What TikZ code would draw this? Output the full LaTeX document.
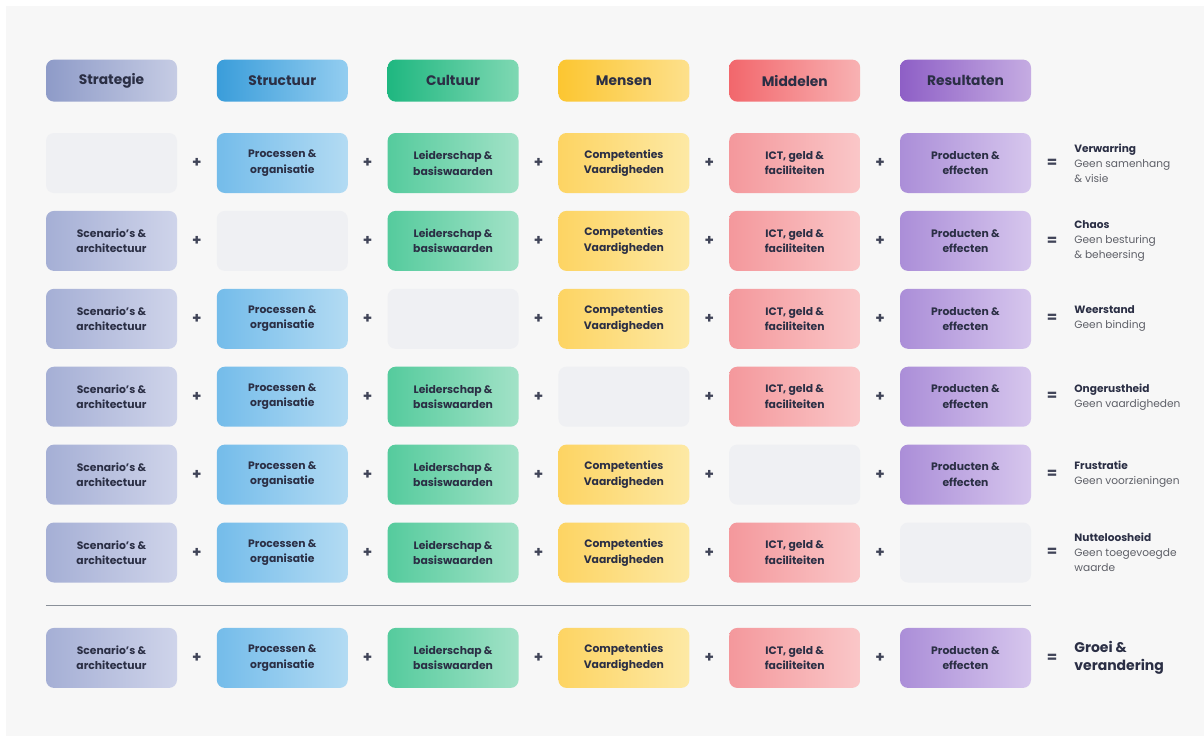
\documentclass[tikz,border=0pt]{standalone}
\usepackage{fontspec}
\setmainfont{Poppins}
\usetikzlibrary{positioning,calc}

\definecolor{ink}{HTML}{2B2F45}
\definecolor{greytext}{HTML}{5E6068}
\definecolor{panel}{HTML}{F7F7F7}
\definecolor{blank}{HTML}{EFF0F3}
\definecolor{rule}{HTML}{8A9099}
% header colours (left / right of the shading)
\definecolor{stratA}{HTML}{8E9BC8}\definecolor{stratB}{HTML}{C6CCE4}
\definecolor{strucA}{HTML}{3A9DDA}\definecolor{strucB}{HTML}{93CDF0}
\definecolor{cultA}{HTML}{1FB780}\definecolor{cultB}{HTML}{7FD8B3}
\definecolor{mensA}{HTML}{FCC631}\definecolor{mensB}{HTML}{FDE08C}
\definecolor{middA}{HTML}{F2676C}\definecolor{middB}{HTML}{F8B2B3}
\definecolor{resA}{HTML}{8E5FC6}\definecolor{resB}{HTML}{C5ACE2}
% lighter colours for the rows
\definecolor{stratC}{HTML}{A5AFD5}\definecolor{stratD}{HTML}{CFD4EA}
\definecolor{strucC}{HTML}{74BCEA}\definecolor{strucD}{HTML}{B3DBF3}
\definecolor{cultC}{HTML}{55CB9D}\definecolor{cultD}{HTML}{A2E2C7}
\definecolor{mensC}{HTML}{FDD463}\definecolor{mensD}{HTML}{FDE9A5}
\definecolor{middC}{HTML}{F4989C}\definecolor{middD}{HTML}{FAC7C8}
\definecolor{resC}{HTML}{AB8ED8}\definecolor{resD}{HTML}{D6C6ED}

\tikzset{
  % all boxes share size and corners
  box/.style={rectangle, rounded corners=8pt, inner sep=0pt,
  minimum width=131pt, minimum height=60pt, align=center, text=ink,
  font=\fontsize{10.8}{15.5}\selectfont\bfseries},
  head/.style={box, minimum height=42pt, font=\fontsize{13.8}{16}\selectfont\bfseries},
  empty/.style={box, fill=blank},
  strath/.style={head, left color=stratA, right color=stratB},
  struch/.style={head, left color=strucA, right color=strucB},
  culth/.style={head, left color=cultA, right color=cultB},
  mensh/.style={head, left color=mensA, right color=mensB},
  middh/.style={head, left color=middA, right color=middB},
  resh/.style={head, left color=resA, right color=resB},
  strat/.style={box, left color=stratC, right color=stratD},
  struc/.style={box, left color=strucC, right color=strucD},
  cult/.style={box, left color=cultC, right color=cultD},
  mens/.style={box, left color=mensC, right color=mensD},
  midd/.style={box, left color=middC, right color=middD},
  res/.style={box, left color=resC, right color=resD},
  plus/.style={text=ink!90, font=\fontsize{15}{15}\selectfont\bfseries},
  eq/.style={text=ink!90, font=\fontsize{15}{15}\selectfont\bfseries},
  outcome/.style={anchor=west, align=left, inner sep=0pt, text=greytext,
  font=\fontsize{10.6}{15}\selectfont},
  sepline/.style={draw=rule, line width=1.3pt}}

\newcommand{\ttl}[1]{{\color{ink}\bfseries #1}}

\begin{document}
\begin{tikzpicture}[x=1pt, y=1pt,
    node distance=17.5pt and 39.4pt, % row gap and column gap
    ]

\useasboundingbox (0,0) rectangle (1204,-736);
\fill [white] (0,0) rectangle (1204,-736);
\fill [panel] (6,-6) rectangle (1204,-736);

% row 1 -- no strategy
\node (s1) [empty] at (111.5,-163) {};
\node (t1) [struc, right=of s1] {Processen \&\\organisatie};
\node (c1) [cult, right=of t1] {Leiderschap \&\\basiswaarden};
\node (m1) [mens, right=of c1] {Competenties\\Vaardigheden};
\node (d1) [midd, right=of m1] {ICT, geld \&\\faciliteiten};
\node (r1) [res, right=of d1] {Producten \&\\effecten};

% header above the first row
\node (hs) [strath, above=31pt of s1] {Strategie};
\node (ht) [struch, above=31pt of t1] {Structuur};
\node (hc) [culth, above=31pt of c1] {Cultuur};
\node (hm) [mensh, above=31pt of m1] {Mensen};
\node (hd) [middh, above=31pt of d1] {Middelen};
\node (hr) [resh, above=31pt of r1] {Resultaten};

% row 2 -- no structure
\node (s2) [strat, below=of s1] {Scenario's \&\\architectuur};
\node (t2) [empty, right=of s2] {};
\node (c2) [cult, right=of t2] {Leiderschap \&\\basiswaarden};
\node (m2) [mens, right=of c2] {Competenties\\Vaardigheden};
\node (d2) [midd, right=of m2] {ICT, geld \&\\faciliteiten};
\node (r2) [res, right=of d2] {Producten \&\\effecten};

% row 3 -- no culture
\node (s3) [strat, below=of s2] {Scenario's \&\\architectuur};
\node (t3) [struc, right=of s3] {Processen \&\\organisatie};
\node (c3) [empty, right=of t3] {};
\node (m3) [mens, right=of c3] {Competenties\\Vaardigheden};
\node (d3) [midd, right=of m3] {ICT, geld \&\\faciliteiten};
\node (r3) [res, right=of d3] {Producten \&\\effecten};

% row 4 -- no people
\node (s4) [strat, below=of s3] {Scenario's \&\\architectuur};
\node (t4) [struc, right=of s4] {Processen \&\\organisatie};
\node (c4) [cult, right=of t4] {Leiderschap \&\\basiswaarden};
\node (m4) [empty, right=of c4] {};
\node (d4) [midd, right=of m4] {ICT, geld \&\\faciliteiten};
\node (r4) [res, right=of d4] {Producten \&\\effecten};

% row 5 -- no means
\node (s5) [strat, below=of s4] {Scenario's \&\\architectuur};
\node (t5) [struc, right=of s5] {Processen \&\\organisatie};
\node (c5) [cult, right=of t5] {Leiderschap \&\\basiswaarden};
\node (m5) [mens, right=of c5] {Competenties\\Vaardigheden};
\node (d5) [empty, right=of m5] {};
\node (r5) [res, right=of d5] {Producten \&\\effecten};

% row 6 -- no results
\node (s6) [strat, below=of s5] {Scenario's \&\\architectuur};
\node (t6) [struc, right=of s6] {Processen \&\\organisatie};
\node (c6) [cult, right=of t6] {Leiderschap \&\\basiswaarden};
\node (m6) [mens, right=of c6] {Competenties\\Vaardigheden};
\node (d6) [midd, right=of m6] {ICT, geld \&\\faciliteiten};
\node (r6) [empty, right=of d6] {};

% row 7 -- everything present
\node (s7) [strat, below=45pt of s6] {Scenario's \&\\architectuur};
\node (t7) [struc, right=of s7] {Processen \&\\organisatie};
\node (c7) [cult, right=of t7] {Leiderschap \&\\basiswaarden};
\node (m7) [mens, right=of c7] {Competenties\\Vaardigheden};
\node (d7) [midd, right=of m7] {ICT, geld \&\\faciliteiten};
\node (r7) [res, right=of d7] {Producten \&\\effecten};

% plus signs between the boxes
\foreach \i in {1,...,7} {
  \path (s\i) -- node (pa\i) [plus] {+} (t\i);
  \path (t\i) -- node (pb\i) [plus] {+} (c\i);
  \path (c\i) -- node (pc\i) [plus] {+} (m\i);
  \path (m\i) -- node (pd\i) [plus] {+} (d\i);
  \path (d\i) -- node (pe\i) [plus] {+} (r\i);
  \node (q\i) [eq] at ($(r\i.east)+(21pt,0)$) {=};
}

% outcomes
\node (o1) [outcome] at ($(r1.east)+(43pt,0)$) {\ttl{Verwarring}\\Geen samenhang\\\& visie};
\node (o2) [outcome] at ($(r2.east)+(43pt,0)$) {\ttl{Chaos}\\Geen besturing\\\& beheersing};
\node (o3) [outcome] at ($(r3.east)+(43pt,0)$) {\ttl{Weerstand}\\Geen binding};
\node (o4) [outcome] at ($(r4.east)+(43pt,0)$) {\ttl{Ongerustheid}\\Geen vaardigheden};
\node (o5) [outcome] at ($(r5.east)+(43pt,0)$) {\ttl{Frustratie}\\Geen voorzieningen};
\node (o6) [outcome] at ($(r6.east)+(43pt,0)$) {\ttl{Nutteloosheid}\\Geen toegevoegde\\waarde};
\node (o7) [outcome, text=ink, font=\fontsize{14}{18}\selectfont\bfseries]
  at ($(r7.east)+(43pt,0)$) {Groei \&\\verandering};

% separator above the last row
\coordinate (sepL) at ($(s6.south west)!0.5!(s7.north west)$);
\coordinate (sepR) at ($(r6.south east)!0.5!(r7.north east)$);
\draw [sepline] (sepL) -- (sepR);

\end{tikzpicture}
\end{document}
